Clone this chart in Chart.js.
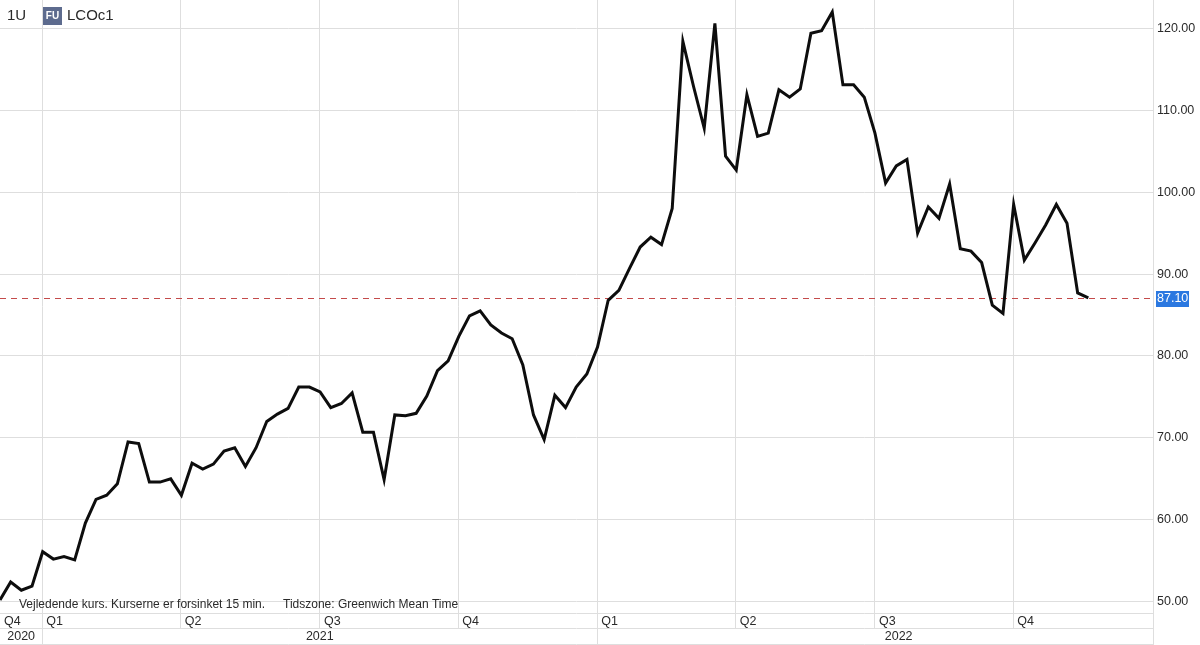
<!DOCTYPE html>
<html>
<head>
<meta charset="utf-8">
<script src="https://cdn.jsdelivr.net/npm/chart.js@4.4.0/dist/chart.umd.min.js"></script>
<style>
  html, body { margin: 0; padding: 0; background: #fff; }
  #wrap { width: 1200px; height: 645px; }
</style>
</head>
<body>
<div id="wrap"><canvas id="chart" width="1200" height="645"></canvas></div>
<script>
// Brent (LCOc1) weekly closes, Dec 2020 - Nov 2022
const prices = [
  50.2, 52.4, 51.4, 51.9, 56.1, 55.2, 55.5, 55.1, 59.6, 62.5,
  63.0, 64.4, 69.5, 69.3, 64.6, 64.6, 65.0, 63.0, 66.9, 66.2,
  66.8, 68.4, 68.8, 66.5, 68.8, 72.0, 72.9, 73.6, 76.2, 76.2,
  75.6, 73.7, 74.2, 75.5, 70.7, 70.7, 64.9, 72.8, 72.7, 73.0,
  75.1, 78.2, 79.4, 82.4, 84.9, 85.5, 83.8, 82.8, 82.1, 78.9,
  72.8, 69.8, 75.2, 73.7, 76.2, 77.8, 81.1, 86.8, 88.0, 90.7,
  93.3, 94.5, 93.6, 98.0, 118.4, 112.9, 107.8, 120.6, 104.4, 102.7,
  111.9, 106.8, 107.2, 112.5, 111.6, 112.6, 119.4, 119.7, 122.0, 113.1,
  113.1, 111.6, 107.2, 101.1, 103.2, 104.0, 95.0, 98.2, 96.8, 101.0,
  93.1, 92.8, 91.4, 86.2, 85.2, 98.5, 91.7, 93.8, 96.0, 98.5,
  96.2, 87.7, 87.1
];
const lastPrice = 87.10;

// quarter starts, in weeks from the first point
const quarterLabels = ['Q4', 'Q1', 'Q2', 'Q3', 'Q4', 'Q1', 'Q2', 'Q3', 'Q4'];
const quarterStarts = [-9.04, 3.96, 16.94, 29.99, 42.95, 55.98, 68.95, 82.0, 94.97];
const yearLabels = ['2020', '2021', '2022'];
const yearStarts = [-48.1, 3.96, 55.98];
const priceTicks = [50, 60, 70, 80, 90, 100, 110, 120];

const FONT = '"Liberation Sans", Arial, Helvetica, sans-serif';
const GRID = '#dedede';
const TEXT = '#2a2a2a';

const extras = {
  id: 'extras',
  beforeDatasetsDraw(chart) {
    const { ctx, chartArea, scales } = chart;
    const y = Math.round(scales.y.getPixelForValue(lastPrice)) + 0.5;
    ctx.save();
    ctx.strokeStyle = '#c44a4a';
    ctx.lineWidth = 1;
    ctx.setLineDash([6, 5]);
    ctx.beginPath();
    ctx.moveTo(chartArea.left, y);
    ctx.lineTo(chartArea.right, y);
    ctx.stroke();
    ctx.restore();
  },
  afterDraw(chart) {
    const { ctx, chartArea, scales } = chart;
    const xs = scales.x;
    const right = chartArea.right;
    const bottom = chartArea.bottom;
    ctx.save();

    // price tag on the axis
    const yp = scales.y.getPixelForValue(lastPrice);
    ctx.fillStyle = '#2b78e0';
    ctx.fillRect(right + 3, Math.round(yp) - 7, 33, 16);
    ctx.fillStyle = '#fff';
    ctx.font = '12.5px ' + FONT;
    ctx.textAlign = 'left';
    ctx.textBaseline = 'middle';
    ctx.fillText(lastPrice.toFixed(2), right + 4, yp + 1);

    // footnote inside the plot
    ctx.fillStyle = TEXT;
    ctx.font = '12px ' + FONT;
    ctx.fillText('Vejledende kurs. Kurserne er forsinket 15 min.', 19, 605);
    ctx.fillText('Tidszone: Greenwich Mean Time', 283, 605);

    // header
    ctx.font = '15px ' + FONT;
    ctx.fillText('1U', 7, 16);
    ctx.fillStyle = '#5d6b8e';
    ctx.fillRect(43, 7, 19, 18);
    ctx.fillStyle = '#fff';
    ctx.font = 'bold 10px ' + FONT;
    ctx.textAlign = 'center';
    ctx.fillText('FU', 52.5, 16.5);
    ctx.fillStyle = TEXT;
    ctx.font = '15px ' + FONT;
    ctx.textAlign = 'left';
    ctx.fillText('LCOc1', 67, 16);

    // quarter / year rows
    const rowQ = bottom + 15;
    const rowY = rowQ + 16;
    ctx.strokeStyle = GRID;
    ctx.lineWidth = 1;
    ctx.beginPath();
    [bottom, rowQ, rowY].forEach(y => {
      ctx.moveTo(0, y + 0.5);
      ctx.lineTo(right, y + 0.5);
    });
    ctx.moveTo(Math.round(right) + 0.5, bottom);
    ctx.lineTo(Math.round(right) + 0.5, rowY + 1);
    yearStarts.forEach(v => {
      const px = xs.getPixelForValue(v);
      if (px > 0) {
        ctx.moveTo(Math.round(px) + 0.5, rowQ);
        ctx.lineTo(Math.round(px) + 0.5, rowY + 1);
      }
    });
    ctx.stroke();

    ctx.fillStyle = TEXT;
    ctx.font = '12.5px ' + FONT;
    ctx.textBaseline = 'middle';
    ctx.textAlign = 'left';
    quarterLabels.forEach((q, i) => {
      const px = Math.max(xs.getPixelForValue(quarterStarts[i]), 0);
      ctx.fillText(q, px + 4, bottom + 8.5);
    });
    const endVal = xs.getValueForPixel(chart.width);
    ctx.textAlign = 'center';
    yearLabels.forEach((yl, i) => {
      const a = Math.max(yearStarts[i], xs.min);
      const b = i + 1 < yearStarts.length ? yearStarts[i + 1] : endVal;
      const cx = xs.getPixelForValue((a + b) / 2);
      ctx.fillText(yl, cx, rowQ + 9);
    });
    ctx.restore();
  }
};

new Chart(document.getElementById('chart'), {
  type: 'line',
  data: {
    datasets: [{
      data: prices.map((p, i) => ({ x: i, y: p })),
      borderColor: '#0d0d0d',
      borderWidth: 3,
      borderJoinStyle: 'miter',
      pointRadius: 0,
      tension: 0,
      fill: false
    }]
  },
  options: {
    responsive: false,
    animation: false,
    layout: { padding: 0 },
    plugins: { legend: { display: false }, tooltip: { enabled: false } },
    scales: {
      x: {
        type: 'linear',
        min: 0,
        max: 108.06,
        afterBuildTicks: axis => {
          axis.ticks = quarterStarts.filter(v => v >= 0).map(v => ({ value: v }));
        },
        afterFit: s => {
          s.height = 32;
          s.paddingLeft = 0;
          s.paddingRight = 0;
        },
        ticks: { display: false },
        grid: { color: GRID, lineWidth: 1, drawTicks: true, tickLength: 15, tickColor: GRID },
        border: { display: false }
      },
      y: {
        position: 'right',
        min: 48.62,
        max: 123.46,
        afterBuildTicks: axis => {
          axis.ticks = priceTicks.map(v => ({ value: v }));
        },
        afterFit: s => {
          s.width = 47;
          s.paddingTop = 0;
          s.paddingBottom = 0;
        },
        ticks: {
          color: TEXT,
          padding: 4,
          font: { family: FONT, size: 12.5 },
          callback: v => v.toFixed(2)
        },
        grid: { color: GRID, lineWidth: 1, drawTicks: false },
        border: { display: true, color: GRID }
      }
    }
  },
  plugins: [extras]
});
</script>
</body>
</html>
